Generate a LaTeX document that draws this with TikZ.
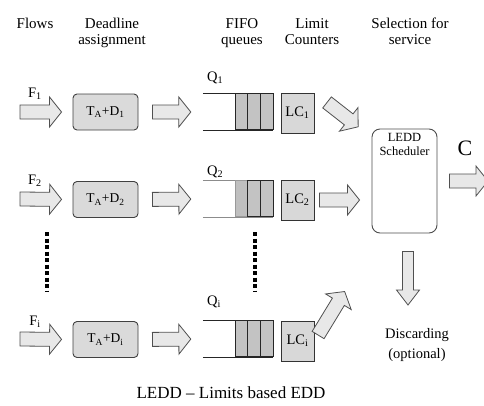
\documentclass[tikz,border=0pt]{standalone}
\usepackage{fontspec}
\setmainfont{Liberation Serif}
\usetikzlibrary{calc, positioning}

\definecolor{arrowgray}{RGB}{232,232,232}
\definecolor{edgegray}{RGB}{80,80,80}
\definecolor{boxgray}{RGB}{218,218,218}
\definecolor{cellgray}{RGB}{195,195,195}
\definecolor{lcgray}{RGB}{216,216,216}

\newcommand{\shaftw}{7pt}
\newcommand{\headw}{15pt}
\newcommand{\headl}{12pt}
% block arrow from #1 to #2, pulled back by #3 at the tail and #4 at the tip
\newcommand{\fatarrow}[4]{%
  \draw[fat] ($(#1)!#3!(#2)!\shaftw!90:(#2)$)
    -- ($(#2)!#4+\headl!(#1)!\shaftw!90:(#2)$)
    -- ($(#2)!#4+\headl!(#1)!\headw!90:(#2)$)
    -- ($(#2)!#4!(#1)$)
    -- ($(#2)!#4+\headl!(#1)!\headw!-90:(#2)$)
    -- ($(#2)!#4+\headl!(#1)!\shaftw!-90:(#2)$)
    -- ($(#1)!#3!(#2)!\shaftw!-90:(#2)$) -- cycle;}

\begin{document}
\begin{tikzpicture}[x=1pt, y=-1pt,
  fat/.style={draw=edgegray, fill=arrowgray, line width=.8pt, line join=miter},
  head/.style={align=center, inner sep=0, font=\fontsize{15}{16}\selectfont},
  dlbox/.style={draw=black!75, fill=boxgray, rounded corners=4pt, line width=.9pt,
    minimum width=65, minimum height=36, inner sep=0, font=\fontsize{13.5}{15}\selectfont},
  queue/.style={minimum width=70, minimum height=36, inner sep=0},
  qline/.style={line width=1pt, black!85},
  cell/.style={draw=black!85, fill=cellgray, line width=1pt},
  lcbox/.style={draw=black!80, fill=lcgray, line width=.9pt, minimum width=33,
    minimum height=40, inner sep=0, font=\fontsize{14.5}{16}\selectfont},
  lbl/.style={inner sep=0, font=\fontsize{14.5}{16}\selectfont},
  dotline/.style={line width=4.5pt, dash pattern=on 4pt off 2.5pt}]
\useasboundingbox (0,0) rectangle (484,405);

% column headings
\node[head, anchor=base] (hflow) at (35,28) {Flows};
\node[head, anchor=base] (hdead) at (112,44) {Deadline\\assignment};
\node[head, anchor=base] (hfifo) at (242,44) {FIFO\\queues};
\node[head, anchor=base] (hlimit) at (312,44) {Limit\\Counters};
\node[head, anchor=base] (hsel) at (410,44) {Selection for\\service};

% row 1
\coordinate (in1) at (20,112);
\node[lbl, anchor=base] (f1) at (35,97) {F\textsubscript{1}};
\node[dlbox] (d1) at (105.5,112) {T\textsubscript{A}+D\textsubscript{1}};
\node[queue] (q1) at (238,112) {};
\node[lbl, anchor=base west] (lq1) at (207,81) {Q\textsubscript{1}};
\draw[qline] (q1.north west) -- (q1.north east) (q1.south west) -- (q1.south east);
\foreach \k in {1,2,3}
  \draw[cell] ($(q1.north east)+(-12.67*\k,0)$) rectangle ++(12.67,36);
\node[lcbox] (lc1) at (297.5,113) {LC\textsubscript{1}};
\fatarrow{in1}{d1.west}{0pt}{11pt}
\fatarrow{d1.east}{q1.west}{14pt}{12pt}

% row 2
\coordinate (in2) at (20,199);
\node[lbl, anchor=base] (f2) at (35,184) {F\textsubscript{2}};
\node[dlbox] (d2) at (105.5,199.5) {T\textsubscript{A}+D\textsubscript{2}};
\node[queue] (q2) at (238,199) {};
\node[lbl, anchor=base west] (lq2) at (207,175) {Q\textsubscript{2}};
\draw[qline, black!45] (q2.north west) -- (q2.north east) (q2.south west) -- (q2.south east);
\draw[cell, draw=black!40, fill=black!25] ($(q2.north east)+(-38,0)$) rectangle ++(12.67,36);
\foreach \k in {1,2}
  \draw[cell] ($(q2.north east)+(-12.67*\k,0)$) rectangle ++(12.67,36);
\node[lcbox] (lc2) at (297.5,200) {LC\textsubscript{2}};
\fatarrow{in2}{d2.west}{0pt}{11pt}
\fatarrow{d2.east}{q2.west}{14pt}{12pt}

% row i
\coordinate (in3) at (20,339);
\node[lbl, anchor=base] (f3) at (35,325) {F\textsubscript{i}};
\node[dlbox] (d3) at (105.5,339.5) {T\textsubscript{A}+D\textsubscript{i}};
\node[queue] (q3) at (238,339) {};
\node[lbl, anchor=base west] (lq3) at (207,305) {Q\textsubscript{i}};
\draw[qline] (q3.north west) -- (q3.north east) (q3.south west) -- (q3.south east);
\foreach \k in {1,2,3}
  \draw[cell] ($(q3.north east)+(-12.67*\k,0)$) rectangle ++(12.67,36);
\node[lcbox] (lc3) at (297.5,341) {LC\textsubscript{i}};
\fatarrow{in3}{d3.west}{0pt}{11pt}
\fatarrow{d3.east}{q3.west}{14pt}{12pt}

% dots between rows
\draw[dotline] (47,232) -- (47,291);
\draw[dotline] (255,232) -- (255,291);

% scheduler
\node[draw=black!70, line width=.9pt, rounded corners=8pt, minimum width=65,
  minimum height=104, inner sep=0] (sched) at (404.5,181) {};
\node[align=center, inner sep=0, font=\fontsize{12.5}{13.5}\selectfont,
  below=5pt of sched.north] (schedlbl) {LEDD\\Scheduler};
\coordinate (s2) at (sched.west |- lc2.east);
\fatarrow{lc1.north east}{sched.127}{16pt}{17pt}
\fatarrow{lc2.east}{s2}{5pt}{12pt}
\fatarrow{lc3.east}{sched.245}{7pt}{68pt}

% output
\coordinate (out) at (488,181);
\node[inner sep=0, font=\fontsize{22}{24}\selectfont, anchor=base] (cap) at (465,155) {C};
\fatarrow{sched.east}{out}{12pt}{0pt}

% discarding
\coordinate (disc) at (408,305);
\coordinate (disctop) at (sched.south -| disc);
{\renewcommand{\shaftw}{5.5pt}\renewcommand{\headw}{11.5pt}\renewcommand{\headl}{15pt}
\fatarrow{disctop}{disc}{18pt}{0pt}}
\node[align=center, inner sep=0, font=\fontsize{14.5}{20}\selectfont, anchor=base]
  (discard) at (417,358) {Discarding\\(optional)};

% caption
\node[inner sep=0, font=\fontsize{17}{19}\selectfont, anchor=base] (title) at (231,398)
  {LEDD – Limits based EDD};
\end{tikzpicture}
\end{document}
